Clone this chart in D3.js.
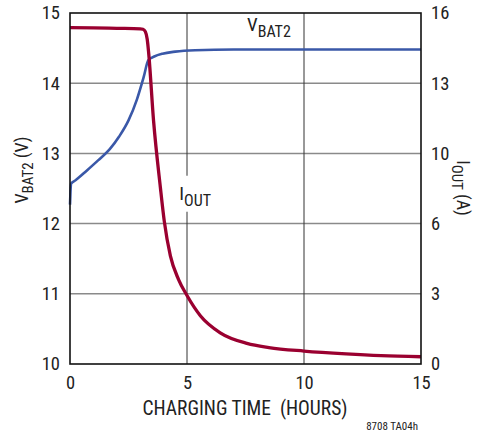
<!DOCTYPE html>
<html>
<head>
<meta charset="utf-8">
<script src="https://cdn.jsdelivr.net/npm/d3@7"></script>
<style>
  body { margin: 0; background: #fff; }
  svg text { font-family: 'Liberation Sans Narrow', 'Roboto Condensed', 'Liberation Sans', sans-serif; fill: #222; }
</style>
</head>
<body>
<div id="chart"></div>
<script>
const width = 483;
const height = 432;
const margin = {top: 13, right: 62, bottom: 68, left: 70};

// time in hours
const vbatTime = [0, 0.02, 0.05, 0.25, 0.7, 1.2, 1.7, 2.1, 2.5, 2.85, 3.15, 3.35, 3.6, 3.95, 4.5, 5.35, 7, 10, 15];
const vbatVolts = [12.27, 12.45, 12.57, 12.62, 12.75, 12.9, 13.06, 13.24, 13.47, 13.76, 14.09, 14.33, 14.38, 14.42, 14.45, 14.47, 14.48, 14.48, 14.48];

const ioutTime = [0, 1, 2, 3, 3.12, 3.22, 3.3, 3.36, 3.57, 3.86, 4.03, 4.29, 4.64, 5.0, 5.57, 6.42, 7.56, 8.5, 10, 11.8, 13.3, 15];
const ioutAmps = [15.33, 15.32, 15.3, 15.28, 15.26, 15.15, 14.8, 14.2, 11.1, 8.07, 6.5, 4.93, 3.85, 3.12, 2.2, 1.42, 0.94, 0.75, 0.59, 0.46, 0.38, 0.33];

const xTicks = [0, 5, 10, 15];
const vTicks = [10, 11, 12, 13, 14, 15];
const iTicks = [0, 3.2, 6.4, 9.6, 12.8, 16];

const x = d3.scaleLinear().domain([0, 15]).range([margin.left, width - margin.right]);
const yV = d3.scaleLinear().domain([10, 15]).range([height - margin.bottom, margin.top]);
const yI = d3.scaleLinear().domain([0, 16]).range([height - margin.bottom, margin.top]);

const svg = d3.select('#chart').append('svg')
  .attr('width', width)
  .attr('height', height);

// horizontal grid
svg.append('g')
  .attr('stroke', '#8a8a8a')
  .attr('stroke-width', 1.5)
  .selectAll('line')
  .data(vTicks.slice(1, -1))
  .join('line')
  .attr('x1', x(0)).attr('x2', x(15))
  .attr('y1', (d)=>yV(d)).attr('y2', (d)=>yV(d));

// vertical grid
svg.append('g')
  .attr('stroke', '#333')
  .attr('stroke-width', 1)
  .selectAll('line')
  .data(xTicks.slice(1, -1))
  .join('line')
  .attr('x1', (d)=>x(d)).attr('x2', (d)=>x(d))
  .attr('y1', yV(15)).attr('y2', yV(10));

// IOUT label with white backing
const ioutLabel = svg.append('g').attr('transform', `translate(${x(4.67)},${yV(12.34)})`);
ioutLabel.append('rect')
  .attr('x', -1).attr('y', -24).attr('width', 34).attr('height', 36)
  .attr('fill', '#fff');
const ioutText = ioutLabel.append('text').attr('font-size', 19);
ioutText.append('tspan').text('I');
ioutText.append('tspan').attr('dy', 6).attr('font-size', 16).text('OUT');

// VBAT2 label
const vbatText = svg.append('text')
  .attr('x', 247).attr('y', 31).attr('font-size', 19);
vbatText.append('tspan').text('V');
vbatText.append('tspan').attr('dy', 6).attr('font-size', 16).text('BAT2');

const vLine = d3.line()
  .x((d, i)=>x(vbatTime[i]))
  .y((d)=>yV(d))
  .curve(d3.curveMonotoneX);

const iLine = d3.line()
  .x((d, i)=>x(ioutTime[i]))
  .y((d)=>yI(d))
  .curve(d3.curveMonotoneX);

svg.append('path')
  .datum(vbatVolts)
  .attr('d', vLine)
  .attr('fill', 'none')
  .attr('stroke', '#3a58a8')
  .attr('stroke-width', 2.6);

svg.append('path')
  .datum(ioutAmps)
  .attr('d', iLine)
  .attr('fill', 'none')
  .attr('stroke', '#9a0030')
  .attr('stroke-width', 3.3);

// frame
svg.append('rect')
  .attr('x', x(0)).attr('y', yV(15))
  .attr('width', x(15) - x(0)).attr('height', yV(10) - yV(15))
  .attr('fill', 'none')
  .attr('stroke', '#111')
  .attr('stroke-width', 1.6);

// axes (labels only)
const bottomAxis = svg.append('g')
  .attr('transform', `translate(0,${yV(10)})`)
  .call(d3.axisBottom(x).tickValues(xTicks).tickSize(0).tickPadding(12).tickFormat(d3.format('d')));
const leftAxis = svg.append('g')
  .attr('transform', `translate(${x(0)},0)`)
  .call(d3.axisLeft(yV).tickValues(vTicks).tickSize(0).tickPadding(10).tickFormat(d3.format('d')));
const rightAxis = svg.append('g')
  .attr('transform', `translate(${x(15)},0)`)
  .call(d3.axisRight(yI).tickValues(iTicks).tickSize(0).tickPadding(10).tickFormat((d)=>Math.round(d)));

[bottomAxis, leftAxis, rightAxis].forEach((g)=>{
  g.select('.domain').remove();
  g.selectAll('text').attr('font-size', 18.5).attr('fill', '#222')
    .style('font-family', "'Liberation Sans Narrow', 'Roboto Condensed', 'Liberation Sans', sans-serif");
});

// axis titles
svg.append('text')
  .attr('x', 245).attr('y', 415)
  .attr('text-anchor', 'middle')
  .attr('font-size', 19.5)
  .attr('xml:space', 'preserve')
  .style('white-space', 'pre')
  .text('CHARGING TIME  (HOURS)');

const leftTitle = svg.append('text')
  .attr('transform', 'translate(28,170) rotate(-90)')
  .attr('text-anchor', 'middle')
  .attr('font-size', 18);
leftTitle.append('tspan').text('V');
leftTitle.append('tspan').attr('dy', 5).attr('font-size', 15).text('BAT2');
leftTitle.append('tspan').attr('dy', -5).text(' (V)');

const rightTitle = svg.append('text')
  .attr('transform', 'translate(457,188) rotate(90)')
  .attr('text-anchor', 'middle')
  .attr('font-size', 18);
rightTitle.append('tspan').text('I');
rightTitle.append('tspan').attr('dy', 5).attr('font-size', 15).text('OUT');
rightTitle.append('tspan').attr('dy', -5).text(' (A)');

svg.append('text')
  .attr('x', 418).attr('y', 430)
  .attr('text-anchor', 'end')
  .attr('font-size', 11)
  .text('8708 TA04h');
</script>
</body>
</html>
